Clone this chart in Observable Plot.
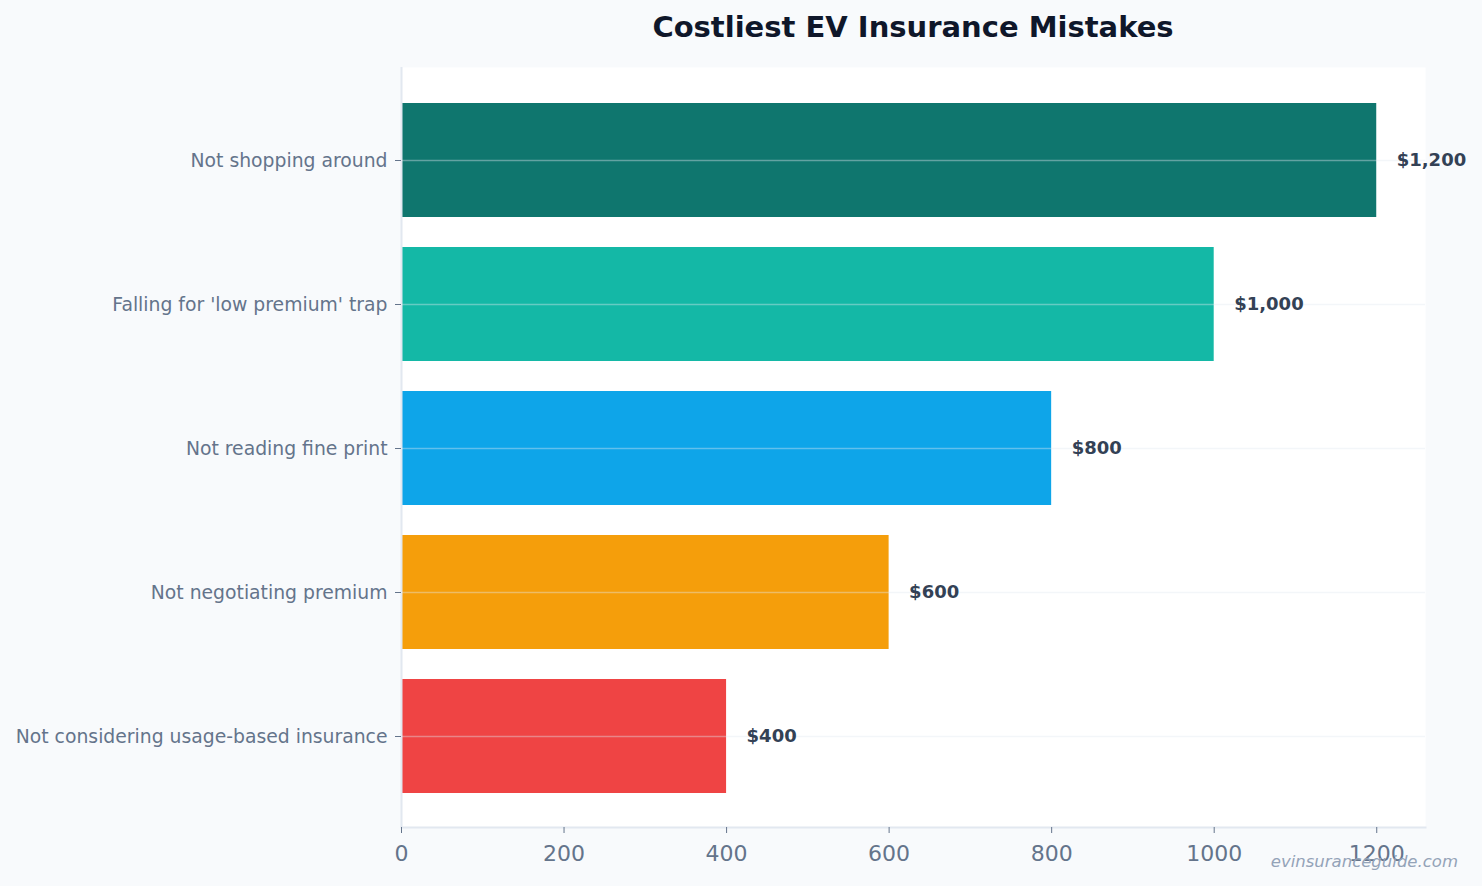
<!DOCTYPE html>
<html>
<head>
<meta charset="utf-8">
<script src="https://cdn.jsdelivr.net/npm/d3@7"></script>
<script src="https://cdn.jsdelivr.net/npm/@observablehq/plot@0.6"></script>
<style>
  html, body { margin: 0; padding: 0; background: #f8fafc; width: 1482px; height: 886px; overflow: hidden; font-family: "DejaVu Sans", sans-serif; position: relative; }
  #title { margin-left: 401px; width: 1024px; height: 55px; line-height: 55px; text-align: center; font-size: 29px; font-weight: bold; color: #0f172a; }
  #wm { position: absolute; right: 24px; top: 852px; font-size: 16.5px; font-style: italic; color: #94a3b8; }
</style>
</head>
<body>
<div id="title">Costliest EV Insurance Mistakes</div>
<div id="chart"></div>
<div id="wm">evinsuranceguide.com</div>
<script>
const categories = ["Not shopping around", "Falling for 'low premium' trap", "Not reading fine print", "Not negotiating premium", "Not considering usage-based insurance"];
const values = [1200, 1000, 800, 600, 400];
const colors = ["#0f766e", "#14b8a6", "#0ea5e9", "#f59e0b", "#ef4444"];
const xTicks = [0, 200, 400, 600, 800, 1000, 1200];

const data = categories.map((c, i) => ({category: c, value: values[i], color: colors[i], label: "$" + d3.format(",")(values[i])}));

const chart = Plot.plot({
  width: 1482,
  height: 831,
  marginLeft: 401,
  marginRight: 57,
  marginTop: 12,
  marginBottom: 59,
  style: {background: "transparent", fontFamily: "DejaVu Sans", color: "#64748b", overflow: "visible"},
  x: {domain: [0, 1260], label: null},
  y: {domain: categories, paddingInner: 0.21, paddingOuter: 0.24, align: 0.51, label: null},
  marks: [
    Plot.frame({fill: "white", stroke: "none"}),
    Plot.barX(data, {y: "category", x: "value", fill: "color"}),
    Plot.ruleY(categories, {stroke: "#e2e8f0", strokeOpacity: 0.4, strokeWidth: 1.5}),
    Plot.ruleX([0], {stroke: "#e2e8f0", strokeWidth: 2}),
    Plot.frame({anchor: "bottom", stroke: "#e2e8f0", strokeWidth: 2}),
    Plot.text(data, {y: "category", x: "value", text: "label", dx: 20, textAnchor: "start", fill: "#334155", fontWeight: "bold", fontSize: 18}),
    Plot.axisX({ticks: xTicks, tickSize: 6, tickPadding: 12, fontSize: 22, label: null, tickFormat: d => String(d)}),
    Plot.axisY({tickSize: 6, tickPadding: 8, fontSize: 18.8, label: null})
  ]
});
document.getElementById("chart").appendChild(chart);
</script>
</body>
</html>
